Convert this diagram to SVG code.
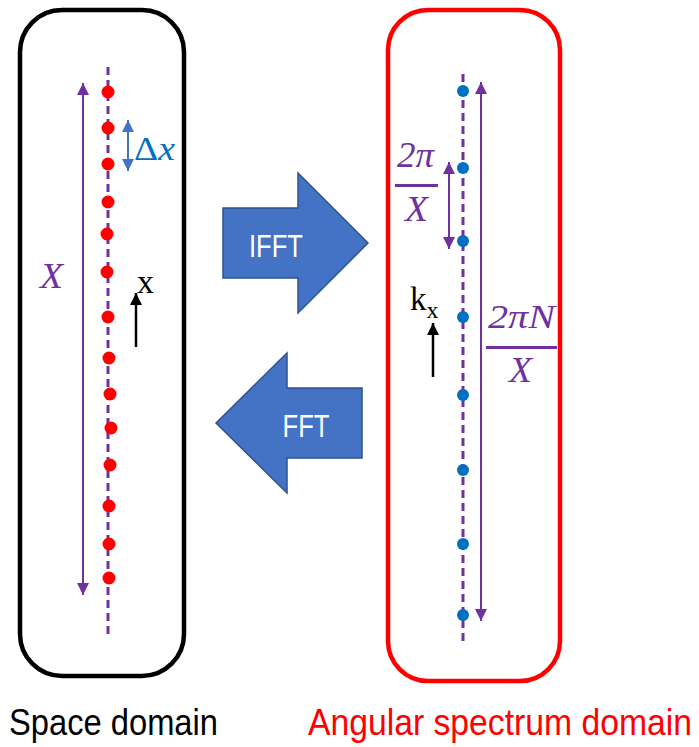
<svg xmlns="http://www.w3.org/2000/svg" width="699" height="747" viewBox="0 0 699 747">
  <style>
    .panel { fill: none; stroke-width: 4.5; }
    .axis { stroke: #7030A0; stroke-width: 3; stroke-dasharray: 8 5; fill: none; }
    .span { stroke: #7030A0; stroke-width: 2; fill: none; }
    .step { stroke: #4472C4; stroke-width: 2; fill: none; }
    .dir { stroke: #000000; stroke-width: 2.5; fill: none; }
    .bar { stroke: #7030A0; stroke-width: 3; }
    .sdot { fill: #FF0000; }
    .kdot { fill: #0070C0; }
    .block { fill: #4472C4; stroke: #2F528F; stroke-width: 1.5; }
    .math { font-family: "Liberation Serif", "DejaVu Serif", serif; font-style: italic; }
    .roman { font-family: "Liberation Serif", "DejaVu Serif", serif; }
    .sans { font-family: "Liberation Sans", Arial, sans-serif; }
  </style>
  <defs>
    <marker id="headPurple" viewBox="0 0 10 10" refX="10" refY="5" markerUnits="userSpaceOnUse" markerWidth="13" markerHeight="12" orient="auto-start-reverse">
      <path d="M0,0 L10,5 L0,10 z" fill="#7030A0"/>
    </marker>
    <marker id="headBlue" viewBox="0 0 10 10" refX="10" refY="5" markerUnits="userSpaceOnUse" markerWidth="12" markerHeight="13" orient="auto-start-reverse">
      <path d="M0,0 L10,5 L0,10 z" fill="#4472C4"/>
    </marker>
    <marker id="headBlack" viewBox="0 0 10 10" refX="10" refY="5" markerUnits="userSpaceOnUse" markerWidth="14" markerHeight="12" orient="auto-start-reverse">
      <path d="M0,0 L10,5 L0,10 z" fill="#000000"/>
    </marker>
  </defs>

  <rect fill="#FFFFFF" x="0" y="0" width="699" height="747"/>

  <!-- space domain panel -->
  <g id="space-panel">
    <rect class="panel" x="20" y="10" width="164" height="666" rx="42" ry="42" stroke="#000000"/>
    <line class="axis" x1="108" y1="67" x2="108" y2="636"/>
    <g id="space-samples">
      <circle class="sdot" cx="108" cy="92" r="6.5"/>
      <circle class="sdot" cx="108" cy="128" r="6.5"/>
      <circle class="sdot" cx="108" cy="164" r="6.5"/>
      <circle class="sdot" cx="108" cy="202" r="6.5"/>
      <circle class="sdot" cx="107" cy="234" r="6.5"/>
      <circle class="sdot" cx="107" cy="272" r="6.5"/>
      <circle class="sdot" cx="108" cy="317" r="6.5"/>
      <circle class="sdot" cx="109" cy="358" r="6.5"/>
      <circle class="sdot" cx="110" cy="394" r="6.5"/>
      <circle class="sdot" cx="111" cy="428" r="6.5"/>
      <circle class="sdot" cx="110" cy="465" r="6.5"/>
      <circle class="sdot" cx="109" cy="506" r="6.5"/>
      <circle class="sdot" cx="109" cy="544" r="6.5"/>
      <circle class="sdot" cx="109" cy="578" r="6.5"/>
    </g>
    <text class="math" x="40" y="288" font-size="36" fill="#7030A0" textLength="23" lengthAdjust="spacingAndGlyphs">X</text>
    <text x="134" y="160" font-size="33" fill="#0070C0" textLength="41" lengthAdjust="spacingAndGlyphs"><tspan class="roman">Δ</tspan><tspan class="math">x</tspan></text>
    <text class="roman" x="137" y="293" font-size="34" fill="#000000">x</text>
  </g>

  <!-- angular spectrum panel -->
  <g id="spectrum-panel">
    <rect class="panel" x="388" y="10" width="172" height="671" rx="40" ry="40" stroke="#FF0000"/>
    <line class="axis" x1="463" y1="74" x2="463" y2="643"/>
    <g id="spectrum-samples">
      <circle class="kdot" cx="463" cy="91" r="6"/>
      <circle class="kdot" cx="463" cy="168" r="6"/>
      <circle class="kdot" cx="463" cy="241" r="6"/>
      <circle class="kdot" cx="463" cy="317" r="6"/>
      <circle class="kdot" cx="463" cy="395" r="6"/>
      <circle class="kdot" cx="463" cy="470" r="6"/>
      <circle class="kdot" cx="463" cy="544" r="6"/>
      <circle class="kdot" cx="463" cy="615" r="6"/>
    </g>
    <g id="label-dk">
      <text class="math" x="397" y="167" font-size="35" fill="#7030A0" textLength="37" lengthAdjust="spacingAndGlyphs">2π</text>
      <line class="bar" x1="395" y1="185.5" x2="438" y2="185.5"/>
      <text class="math" x="405" y="221" font-size="36" fill="#7030A0" textLength="23" lengthAdjust="spacingAndGlyphs">X</text>
    </g>
    <g id="label-kmax">
      <text class="math" x="488" y="328" font-size="33" fill="#7030A0" textLength="67" lengthAdjust="spacingAndGlyphs">2πN</text>
      <line class="bar" x1="486" y1="347.5" x2="557" y2="347.5"/>
      <text class="math" x="509" y="382" font-size="36" fill="#7030A0" textLength="23" lengthAdjust="spacingAndGlyphs">X</text>
    </g>
    <text class="roman" x="410" y="310" font-size="33" fill="#000000">k<tspan font-size="24" dy="8">x</tspan></text>
  </g>

  <!-- transform arrows -->
  <g id="ifft">
    <polygon class="block" points="223,208 298,208 298,173 368,243 298,313 298,278 223,278"/>
    <text class="sans" x="276" y="257" font-size="32" fill="#FFFFFF" text-anchor="middle" textLength="54" lengthAdjust="spacingAndGlyphs">IFFT</text>
  </g>
  <g id="fft">
    <polygon class="block" points="216,423 287,353 287,388 362,388 362,458 287,458 287,493"/>
    <text class="sans" x="306" y="437" font-size="32" fill="#FFFFFF" text-anchor="middle" textLength="47" lengthAdjust="spacingAndGlyphs">FFT</text>
  </g>

  <!-- dimension and direction arrows -->
  <g id="connectors">
    <line class="span" x1="83" y1="83" x2="83" y2="595" marker-start="url(#headPurple)" marker-end="url(#headPurple)"/>
    <line class="step" x1="128" y1="120" x2="128" y2="171" marker-start="url(#headBlue)" marker-end="url(#headBlue)"/>
    <line class="dir" x1="136" y1="347" x2="136" y2="293" marker-end="url(#headBlack)"/>
    <line class="span" x1="481" y1="82" x2="481" y2="621" marker-start="url(#headPurple)" marker-end="url(#headPurple)"/>
    <line class="span" x1="449" y1="162" x2="449" y2="249" marker-start="url(#headPurple)" marker-end="url(#headPurple)"/>
    <line class="dir" x1="433" y1="377" x2="433" y2="323" marker-end="url(#headBlack)"/>
  </g>

  <!-- captions -->
  <text class="sans" x="9" y="735" font-size="37" fill="#000000" textLength="209" lengthAdjust="spacingAndGlyphs">Space domain</text>
  <text class="sans" x="308" y="735" font-size="37" fill="#FF0000" textLength="384" lengthAdjust="spacingAndGlyphs">Angular spectrum domain</text>
</svg>
